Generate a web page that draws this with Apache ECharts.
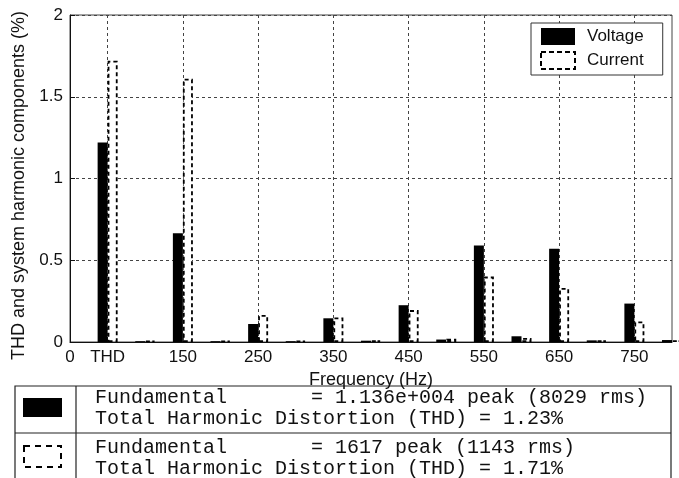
<!DOCTYPE html>
<html>
<head>
<meta charset="utf-8">
<script src="https://cdn.jsdelivr.net/npm/echarts@6/dist/echarts.min.js"></script>
<style>html,body{margin:0;padding:0;background:#fff;}#c{width:679px;height:478px;}</style>
</head>
<body>
<div id="c"></div>
<script>
// Category positions along the frequency axis (index 0 = "0", 1 = THD, then 100..800 Hz)
const categories = ['0','THD','100','150','200','250','300','350','400','450','500','550','600','650','700','750','800'];
const voltage = [null, 1.22, 0.005, 0.665, 0.005, 0.11, 0.005, 0.145, 0.008, 0.225, 0.015, 0.59, 0.035, 0.57, 0.01, 0.235, 0.012];
const current = [null, 1.72, 0.008, 1.61, 0.008, 0.165, 0.008, 0.15, 0.01, 0.195, 0.02, 0.40, 0.025, 0.33, 0.01, 0.125, 0.01];
const seriesNames = ['Voltage', 'Current'];
const yTicks = [0, 0.5, 1, 1.5, 2];
const tableLines = [
  ['Fundamental       = 1.136e+004 peak (8029 rms)', 'Total Harmonic Distortion (THD) = 1.23%'],
  ['Fundamental       = 1617 peak (1143 rms)', 'Total Harmonic Distortion (THD) = 1.71%']
];

const chart = echarts.init(document.getElementById('c'), null, {renderer: 'canvas'});
const F = 'Liberation Sans, Arial, Helvetica, sans-serif';
const M = 'Liberation Mono, Courier New, monospace';
const shown = (i) => i === 0 || (i % 2 === 1);

const voltageStyle = {color: '#000', borderColor: '#000', borderWidth: 0};
const currentStyle = {color: '#fff', borderColor: '#000', borderWidth: 1.8, borderType: [4, 3]};

const g = [];
// table frame
g.push({type: 'rect', shape: {x: 15, y: 386, width: 656, height: 130}, style: {fill: 'none', stroke: '#222', lineWidth: 1.2}, silent: true});
g.push({type: 'line', shape: {x1: 76, y1: 386, x2: 76, y2: 478}, style: {stroke: '#222', lineWidth: 1.2}, silent: true});
g.push({type: 'line', shape: {x1: 15, y1: 433, x2: 671, y2: 433}, style: {stroke: '#222', lineWidth: 1.2}, silent: true});
g.push({type: 'rect', shape: {x: 23, y: 398, width: 39, height: 19}, style: {fill: '#000'}, silent: true});
g.push({type: 'rect', shape: {x: 24, y: 446, width: 37, height: 21}, style: {fill: 'none', stroke: '#000', lineWidth: 2, lineDash: [6, 5]}, silent: true});
const rowY = [[398, 419], [447.5, 469]];
tableLines.forEach((row, r) => {
  row.forEach((t, k) => {
    g.push({type: 'text', x: 95, y: rowY[r][k], style: {text: t, font: '20px ' + M, fill: '#111', textVerticalAlign: 'middle', textAlign: 'left'}, silent: true});
  });
});

chart.setOption({
  animation: false,
  backgroundColor: '#fff',
  grid: {left: 70, right: 7, top: 15, bottom: 136, show: true, borderColor: '#444', borderWidth: 1},
  legend: {
    orient: 'vertical', left: 531, top: 23, padding: [5, 19, 5, 9],
    itemWidth: 34, itemHeight: 17, itemGap: 6, icon: 'rect',
    borderColor: '#333', borderWidth: 1, backgroundColor: '#fff',
    textStyle: {fontFamily: F, fontSize: 17, color: '#111', padding: [0, 0, 0, 7]},
    data: [
      {name: seriesNames[0], itemStyle: voltageStyle},
      {name: seriesNames[1], itemStyle: {color: '#fff', borderColor: '#000', borderWidth: 2, borderType: [5, 3]}}
    ]
  },
  xAxis: {
    type: 'category', data: categories, boundaryGap: false,
    name: 'Frequency (Hz)', nameLocation: 'middle', nameGap: 14,
    nameTextStyle: {fontFamily: F, fontSize: 18, color: '#111'},
    axisLine: {lineStyle: {color: '#111', width: 1}},
    axisTick: {inside: true, length: 5, interval: (i) => shown(i), lineStyle: {color: '#111'}},
    axisLabel: {interval: (i) => shown(i), fontFamily: F, fontSize: 17, color: '#111', margin: 7},
    splitLine: {show: true, interval: (i) => i % 2 === 1, lineStyle: {color: '#444', type: [3, 3], width: 1}}
  },
  yAxis: {
    type: 'value', min: yTicks[0], max: yTicks[yTicks.length - 1], interval: 0.5,
    name: 'THD and system harmonic components (%)', nameLocation: 'middle', nameGap: 40,
    nameTextStyle: {fontFamily: F, fontSize: 18, color: '#111', padding: [0, 14, 0, 0]},
    axisLine: {show: true, lineStyle: {color: '#111', width: 1}},
    axisTick: {show: true, inside: true, length: 5, lineStyle: {color: '#111'}},
    axisLabel: {fontFamily: F, fontSize: 17, color: '#111', margin: 7},
    splitLine: {show: true, lineStyle: {color: '#444', type: [3, 3], width: 1}}
  },
  series: [
    {name: seriesNames[0], type: 'bar', data: voltage, barWidth: 10, barGap: '0%', clip: true, itemStyle: voltageStyle},
    {name: seriesNames[1], type: 'bar', data: current, barWidth: 10, barGap: '0%', clip: true, itemStyle: currentStyle}
  ],
  graphic: g
});
</script>
</body>
</html>
